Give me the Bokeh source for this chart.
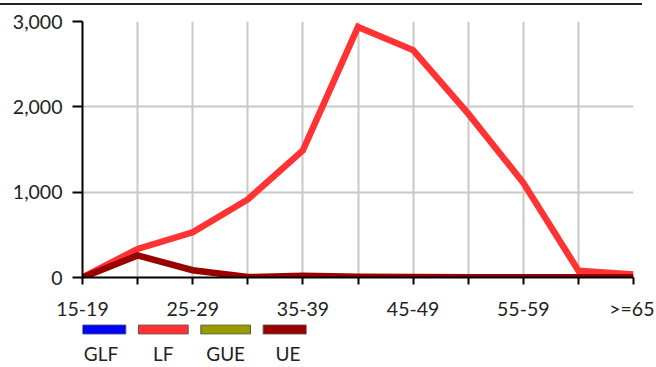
from bokeh.plotting import figure
from bokeh.layouts import column
from bokeh.models import (ColumnDataSource, FixedTicker, NumeralTickFormatter,
                          Range1d, FactorRange)
from bokeh.embed import file_html
from bokeh.resources import INLINE

categories = ["15-19", "20-24", "25-29", "30-34", "35-39", "40-44",
              "45-49", "50-54", "55-59", "60-64", ">=65"]
glf = [None, None, None, None, None, None, None, None, None, None, None]
lf = [0, 335, 530, 915, 1490, 2935, 2665, 1920, 1110, 80, 35]
gue = [None, None, None, None, None, None, None, None, None, None, None]
ue = [0, 258, 85, 5, 20, 10, 5, 3, 2, 2, 2]
series_names = ["GLF", "LF", "GUE", "UE"]
series_values = [glf, lf, gue, ue]
colors = ["#0000ff", "#ff3333", "#999900", "#990000"]
y_ticks = [0, 1000, 2000, 3000]

FONT = "Lato"
idx = list(range(len(categories)))

# ---- main chart (canvas coords; layout is shifted 8px up/left on the page)
FRAME_L, FRAME_R, FRAME_T, FRAME_B = 90, 641, 29, 285
W, H = 662, 332

p = figure(width=W, height=H, x_range=Range1d(0, len(categories) - 1),
           y_range=Range1d(0, 3000), output_backend="svg", toolbar_location=None,
           min_border_left=FRAME_L, min_border_right=W - FRAME_R,
           min_border_top=FRAME_T, min_border_bottom=H - FRAME_B)
p.outline_line_color = None
p.border_fill_alpha = 0
p.background_fill_color = "white"

p.xgrid.ticker = FixedTicker(ticks=idx)
p.ygrid.ticker = FixedTicker(ticks=y_ticks)
for g in (p.xgrid, p.ygrid):
    g.grid_line_color = "#c8c8c8"
    g.grid_line_width = 2

p.xaxis.ticker = FixedTicker(ticks=idx)
p.xaxis.major_label_overrides = {i: (categories[i] if i % 2 == 0 else "") for i in idx}
p.yaxis.ticker = FixedTicker(ticks=y_ticks)
p.yaxis.formatter = NumeralTickFormatter(format="0,0")
for ax in (p.xaxis, p.yaxis):
    ax.axis_line_color = "black"
    ax.axis_line_width = 2
    ax.major_tick_line_color = "black"
    ax.major_tick_line_width = 2
    ax.major_tick_in = 0
    ax.minor_tick_line_color = None
    ax.major_label_text_font = FONT
    ax.major_label_text_font_size = "19.5px"
    ax.major_label_text_color = "#222222"
p.xaxis.major_tick_out = 7
p.xaxis.major_label_standoff = 12
p.yaxis.major_tick_out = 10
p.yaxis.major_label_standoff = 10

for name, vals, c in zip(series_names, series_values, colors):
    src = ColumnDataSource(dict(x=idx, y=[float("nan") if v is None else v for v in vals]))
    p.line("x", "y", source=src, line_color=c, line_width=6.5, line_join="miter")

# ---- legend row: swatches with labels centred underneath
# (column aligns the plot frames, so this frame starts where the main one does)
SW_W, SW_PITCH = 47, 59
wfrac = SW_W / SW_PITCH
L_TOP, L_H, L_BOT = 0, 12, 31
frame_w = round((len(series_names) - 1 + wfrac) * SW_PITCH)
lw = FRAME_L + frame_w + (W - FRAME_R)
leg = figure(width=lw, height=L_TOP + L_H + L_BOT,
             x_range=FactorRange(*series_names, range_padding=-(1 - wfrac),
                                 range_padding_units="absolute"),
             y_range=Range1d(-0.04, 1.04), output_backend="svg", toolbar_location=None,
             min_border_left=FRAME_L, min_border_right=W - FRAME_R,
             min_border_top=L_TOP, min_border_bottom=L_BOT)
leg.outline_line_color = None
leg.border_fill_alpha = 0
leg.background_fill_alpha = 0
leg.grid.visible = False
leg.yaxis.visible = False
leg.vbar(x=series_names, bottom=0, top=1, width=wfrac,
         fill_color=colors, line_color="#555555", line_width=1)
leg.xaxis.axis_line_color = None
leg.xaxis.major_tick_line_color = None
leg.xaxis.major_tick_out = 0
leg.xaxis.minor_tick_line_color = None
leg.xaxis.major_label_standoff = 7
leg.xaxis.major_label_text_font = FONT
leg.xaxis.major_label_text_font_size = "19px"
leg.xaxis.major_label_text_color = "#222222"

layout = column(p, leg, spacing=0)
layout.styles = {"margin-left": "-8px", "margin-top": "-8px",
                 "background": "linear-gradient(#222222,#222222) no-repeat 8px 11px / 642px 2px"}

open("out.html", "w").write(file_html(layout, INLINE))
